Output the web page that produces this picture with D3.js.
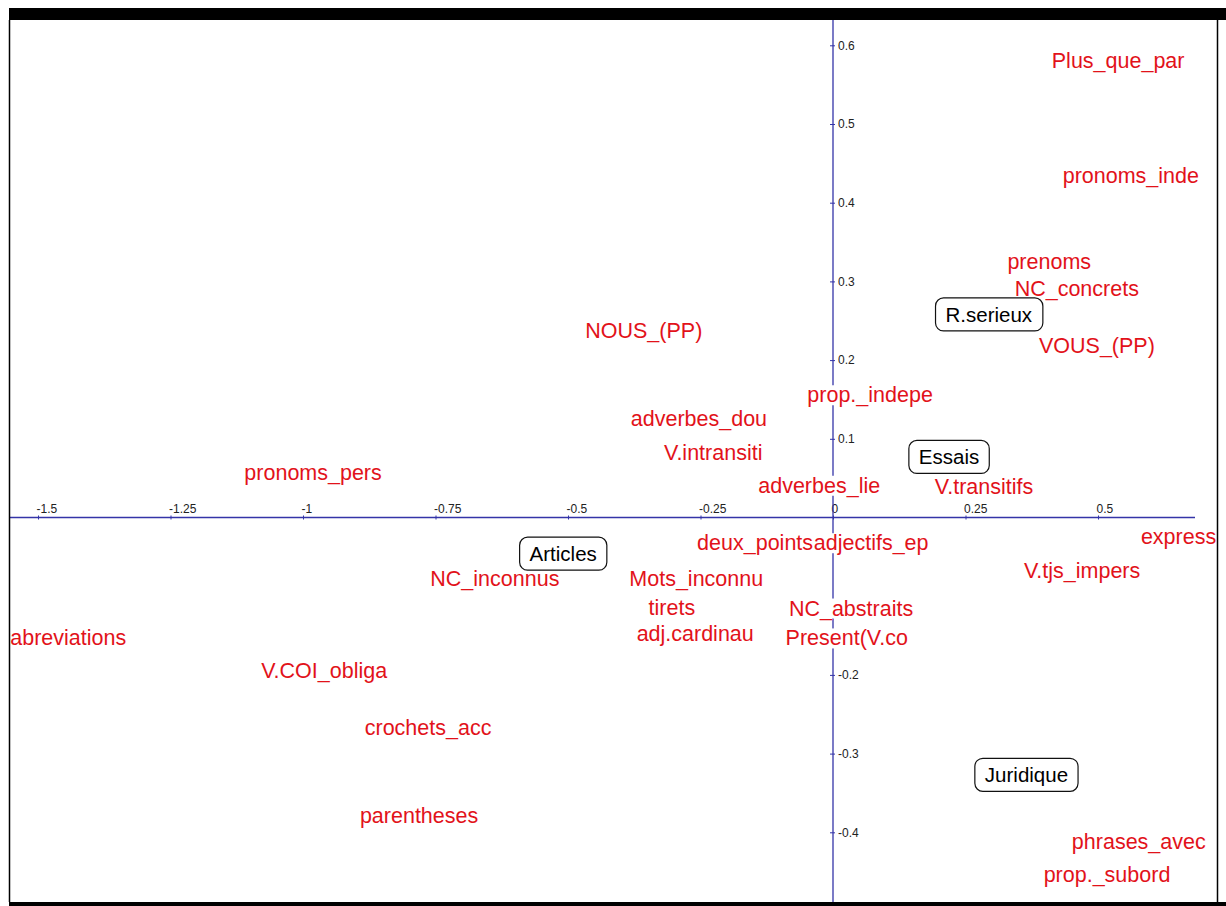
<!DOCTYPE html>
<html>
<head>
<meta charset="utf-8">
<script src="https://cdn.jsdelivr.net/npm/d3@7"></script>
<style>
  body { margin: 0; background: #fff; }
  svg { display: block; font-family: "Liberation Sans", Arial, sans-serif; }
</style>
</head>
<body>
<svg width="1226" height="906"></svg>
<script>
  // DATA

  var termNames = ["Plus_que_par", "pronoms_inde", "prenoms", "NC_concrets", "VOUS_(PP)",
    "NOUS_(PP)", "prop._indepe", "adverbes_dou", "V.intransiti", "adverbes_lie",
    "pronoms_pers", "V.transitifs", "express", "deux_points", "adjectifs_ep",
    "NC_inconnus", "Mots_inconnu", "V.tjs_impers", "tirets", "adj.cardinau",
    "NC_abstraits", "Present(V.co", "abreviations", "V.COI_obliga", "crochets_acc",
    "parentheses", "phrases_avec", "prop._subord"];
  var termX = [0.538, 0.562, 0.408, 0.460, 0.498,
    -0.357, 0.070, -0.253, -0.226, -0.026,
    -0.981, 0.285, 0.652, -0.147, 0.072,
    -0.638, -0.258, 0.470, -0.304, -0.260,
    0.034, 0.026, -1.443, -0.960, -0.764,
    -0.781, 0.577, 0.517];
  var termY = [0.581, 0.434, 0.325, 0.291, 0.218,
    0.238, 0.156, 0.126, 0.083, 0.041,
    0.057, 0.039, -0.024, -0.032, -0.032,
    -0.078, -0.078, -0.067, -0.114, -0.147,
    -0.115, -0.153, -0.153, -0.195, -0.267,
    -0.378, -0.412, -0.454];

  var groupNames = ["R.serieux", "Essais", "Articles", "Juridique"];
  var groupX = [0.294, 0.219, -0.509, 0.365];
  var groupY = [0.258, 0.077, -0.046, -0.327];

  var xTicks = [-1.5, -1.25, -1, -0.75, -0.5, -0.25, 0, 0.25, 0.5];
  var xTickLabels = ["-1.5", "-1.25", "-1", "-0.75", "-0.5", "-0.25", "0", "0.25", "0.5"];
  var yTicks = [0.6, 0.5, 0.4, 0.3, 0.2, 0.1, -0.2, -0.3, -0.4];
  var yTickLabels = ["0.6", "0.5", "0.4", "0.3", "0.2", "0.1", "-0.2", "-0.3", "-0.4"];

  // SETUP

  var svg = d3.select("svg"),
    frame = { left: 9.5, right: 1217.5, top: 20, bottom: 902 },
    axisColor = "#3434a8",
    red = "#e2121a";

  var x = d3.scaleLinear().domain([0, 0.5]).range([833, 1098]);
  var y = d3.scaleLinear().domain([0, 0.6]).range([517.5, 45.3]);

  svg.append("rect").attr("width", 1226).attr("height", 906).attr("fill", "#fff");

  svg.append("defs").append("clipPath").attr("id", "plot")
    .append("rect")
    .attr("x", frame.left).attr("y", frame.top)
    .attr("width", frame.right - frame.left).attr("height", frame.bottom - frame.top);

  var g = svg.append("g").attr("clip-path", "url(#plot)");

  // AXES

  var xAxis = g.append("g")
    .attr("transform", "translate(0," + y(0) + ")")
    .call(d3.axisTop(x).tickValues(xTicks).tickSize(3)
      .tickFormat(function (d, i) { return xTickLabels[i]; }));
  xAxis.select(".domain").remove();
  xAxis.append("line")
    .attr("x1", frame.left).attr("x2", 1195)
    .attr("stroke", axisColor).attr("stroke-width", 1.3);
  xAxis.selectAll(".tick line").attr("stroke", axisColor).attr("y2", 2).attr("y1", -2);
  xAxis.selectAll(".tick text")
    .attr("text-anchor", "start").attr("x", -2).attr("y", -5)
    .attr("fill", "#222").style("font-size", "12px")
    .style("font-family", "'Liberation Sans', Arial, sans-serif");

  var yAxis = g.append("g")
    .attr("transform", "translate(" + x(0) + ",0)")
    .call(d3.axisRight(y).tickValues(yTicks).tickSize(3)
      .tickFormat(function (d, i) { return yTickLabels[i]; }));
  yAxis.select(".domain").remove();
  yAxis.insert("line", ":first-child")
    .attr("y1", frame.top).attr("y2", frame.bottom)
    .attr("stroke", axisColor).attr("stroke-width", 1.3);
  yAxis.selectAll(".tick line").attr("stroke", axisColor).attr("x1", -3).attr("x2", 2);
  yAxis.selectAll(".tick text")
    .attr("x", 5).attr("fill", "#222").style("font-size", "12px")
    .style("font-family", "'Liberation Sans', Arial, sans-serif");

  // TERMS (red, white backing)

  termNames.forEach(function (name, i) {
    var t = g.append("g").attr("class", "term");
    var bg = t.append("rect").attr("fill", "#fff");
    var txt = t.append("text")
      .attr("x", x(termX[i])).attr("y", y(termY[i]))
      .attr("text-anchor", "middle").attr("dy", "0.35em")
      .attr("fill", red).style("font-size", "21.5px")
      .text(name);
    var b = txt.node().getBBox();
    bg.attr("x", b.x).attr("y", b.y + 2).attr("width", b.width).attr("height", b.height - 4);
  });

  // GROUPS (boxed)

  groupNames.forEach(function (name, i) {
    var t = g.append("g").attr("class", "group");
    var box = t.append("rect")
      .attr("fill", "#fff").attr("stroke", "#111").attr("stroke-width", 1.2)
      .attr("rx", 8).attr("ry", 8);
    var txt = t.append("text")
      .attr("x", x(groupX[i])).attr("y", y(groupY[i]))
      .attr("text-anchor", "middle").attr("dy", "0.36em")
      .attr("fill", "#000").style("font-size", "20.5px")
      .text(name);
    var b = txt.node().getBBox();
    box.attr("x", b.x - 10).attr("y", y(groupY[i]) - 16.5)
      .attr("width", b.width + 20).attr("height", 33);
  });

  // FRAME

  svg.append("rect").attr("x", 9).attr("y", 8).attr("width", 1217).attr("height", 12).attr("fill", "#000");
  svg.append("rect").attr("x", 9).attr("y", 902).attr("width", 1217).attr("height", 4).attr("fill", "#000");
  svg.append("line").attr("x1", frame.left).attr("x2", frame.left).attr("y1", 20).attr("y2", 902)
    .attr("stroke", "#000").attr("stroke-width", 1.5);
  svg.append("line").attr("x1", frame.right).attr("x2", frame.right).attr("y1", 20).attr("y2", 902)
    .attr("stroke", "#000").attr("stroke-width", 1.5);
</script>
</body>
</html>
